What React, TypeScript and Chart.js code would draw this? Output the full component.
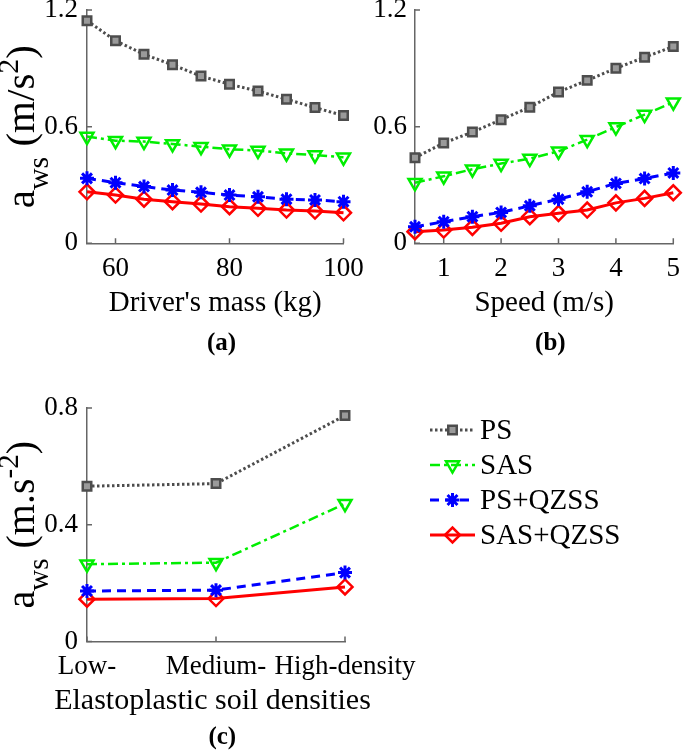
import React, { useEffect, useRef } from 'react';
import { Chart, registerables } from 'chart.js';
import { drawPoint } from 'chart.js/helpers';

Chart.register(...registerables);

const FONT = "'Liberation Serif', 'Times New Roman', serif";
Chart.defaults.font.family = FONT;
const AXIS = '#666666';

// ---------- data ----------
const seriesNames = ['PS', 'SAS', 'PS+QZSS', 'SAS+QZSS'];

const massX = [55, 60, 65, 70, 75, 80, 85, 90, 95, 100];
const massPS = [1.145, 1.042, 0.972, 0.918, 0.86, 0.818, 0.783, 0.741, 0.698, 0.657];
const massSAS = [0.549, 0.528, 0.523, 0.511, 0.497, 0.484, 0.477, 0.463, 0.454, 0.442];
const massPSQ = [0.334, 0.312, 0.292, 0.274, 0.262, 0.248, 0.239, 0.227, 0.223, 0.214];
const massSASQ = [0.265, 0.248, 0.227, 0.214, 0.202, 0.188, 0.18, 0.171, 0.166, 0.157];

const speedX = [0.5, 1, 1.5, 2, 2.5, 3, 3.5, 4, 4.5, 5];
const speedPS = [0.44, 0.516, 0.572, 0.636, 0.7, 0.778, 0.838, 0.9, 0.957, 1.012];
const speedSAS = [0.311, 0.345, 0.381, 0.41, 0.436, 0.473, 0.533, 0.598, 0.662, 0.726];
const speedPSQ = [0.085, 0.111, 0.137, 0.159, 0.193, 0.227, 0.265, 0.308, 0.333, 0.362];
const speedSASQ = [0.06, 0.068, 0.082, 0.103, 0.137, 0.154, 0.171, 0.208, 0.231, 0.26];

const soilLabels = ['Low-', 'Medium-', 'High-density'];
const soilPS = [0.532, 0.541, 0.774];
const soilSAS = [0.265, 0.27, 0.472];
const soilPSQ = [0.173, 0.176, 0.236];
const soilSASQ = [0.145, 0.147, 0.187];

const massXTicks = [60, 80, 100];
const speedXTicks = [1, 2, 3, 4, 5];
const yTicksAB = [0, 0.6, 1.2];
const yTicksC = [0, 0.4, 0.8];

// ---------- styles ----------
const seriesStyles: any[] = [
  {
    borderColor: '#4d4d4d', borderDash: [2.5, 2.5], borderWidth: 3,
    pointStyle: 'rect', pointRadius: 6, pointRotation: 0, pointBorderWidth: 2.5,
    pointBorderColor: '#4d4d4d', pointBackgroundColor: '#9a9a9a',
  },
  {
    borderColor: '#00ee00', borderDash: [10, 4, 3, 4], borderWidth: 2.5,
    pointStyle: 'triangle', pointRadius: 7.5, pointRotation: 180, pointBorderWidth: 2.5,
    pointBorderColor: '#00ee00', pointBackgroundColor: 'rgba(255,255,255,0)',
  },
  {
    borderColor: '#0000ff', borderDash: [9, 6], borderWidth: 3,
    pointStyle: 'star', pointRadius: 7, pointRotation: 0, pointBorderWidth: 3,
    pointBorderColor: '#0000ff', pointBackgroundColor: '#0000ff',
  },
  {
    borderColor: '#ff0000', borderDash: [], borderWidth: 3,
    pointStyle: 'rectRot', pointRadius: 7.5, pointRotation: 0, pointBorderWidth: 2.5,
    pointBorderColor: '#ff0000', pointBackgroundColor: 'rgba(255,255,255,0)',
  },
];

function makeDatasets(xs: any[] | null, ys: number[][]) {
  return ys.map((arr, i) => ({
    label: seriesNames[i],
    data: xs ? arr.map((v, j) => ({ x: xs[j], y: v })) : arr,
    fill: false,
    tension: 0,
    clip: false as any,
    ...seriesStyles[i],
  }));
}

// ---------- plugins ----------
const inwardTicks = {
  id: 'inwardTicks',
  beforeDatasetsDraw(chart: any) {
    const { ctx, chartArea } = chart;
    const xs = chart.scales.x;
    const ys = chart.scales.y;
    ctx.save();
    ctx.strokeStyle = AXIS;
    ctx.lineWidth = 1.5;
    ctx.beginPath();
    xs.ticks.forEach((_t: any, i: number) => {
      const p = xs.getPixelForTick(i);
      ctx.moveTo(p, chartArea.bottom);
      ctx.lineTo(p, chartArea.bottom - 5);
    });
    ys.ticks.forEach((_t: any, i: number) => {
      const p = ys.getPixelForTick(i);
      ctx.moveTo(chartArea.left, p);
      ctx.lineTo(chartArea.left + 5, p);
    });
    ctx.stroke();
    ctx.restore();
  },
};

type Part = { t: string; size: number; dy: number };
function makeYTitle(parts: Part[], baseX: number) {
  return {
    id: 'yTitleCustom',
    afterDraw(chart: any) {
      const { ctx, chartArea } = chart;
      ctx.save();
      let total = 0;
      const widths = parts.map((p) => {
        ctx.font = `${p.size}px ${FONT}`;
        const w = ctx.measureText(p.t).width;
        total += w;
        return w;
      });
      const cy = (chartArea.top + chartArea.bottom) / 2;
      ctx.translate(baseX, cy);
      ctx.rotate(-Math.PI / 2);
      ctx.fillStyle = '#000';
      ctx.textBaseline = 'alphabetic';
      ctx.textAlign = 'left';
      let x = -total / 2;
      parts.forEach((p, i) => {
        ctx.font = `${p.size}px ${FONT}`;
        ctx.fillText(p.t, x, p.dy);
        x += widths[i];
      });
      ctx.restore();
    },
  };
}

function makeXTitle(text: string, size: number, dx: number, y: number) {
  return {
    id: 'xTitleCustom',
    afterDraw(chart: any) {
      const { ctx, chartArea } = chart;
      ctx.save();
      ctx.font = `${size}px ${FONT}`;
      ctx.fillStyle = '#000';
      ctx.textAlign = 'center';
      ctx.textBaseline = 'middle';
      ctx.fillText(text, (chartArea.left + chartArea.right) / 2 + dx, y);
      ctx.restore();
    },
  };
}

const legendPlugin = {
  id: 'customLegend',
  afterDraw(chart: any) {
    const { ctx } = chart;
    const x0 = 430, x1 = 475, tx = 480, y0 = 60, step = 35;
    chart.data.datasets.forEach((ds: any, i: number) => {
      const y = y0 + i * step;
      ctx.save();
      ctx.strokeStyle = ds.borderColor;
      ctx.lineWidth = ds.borderWidth;
      ctx.setLineDash(ds.borderDash || []);
      ctx.beginPath();
      ctx.moveTo(x0, y);
      ctx.lineTo(x1, y);
      ctx.stroke();
      ctx.setLineDash([]);
      ctx.strokeStyle = ds.pointBorderColor;
      ctx.fillStyle = ds.pointBackgroundColor;
      ctx.lineWidth = ds.pointBorderWidth;
      drawPoint(ctx, { pointStyle: ds.pointStyle, rotation: ds.pointRotation, radius: ds.pointRadius, borderWidth: ds.pointBorderWidth } as any, (x0 + x1) / 2, y);
      ctx.fillStyle = '#000';
      ctx.font = `29px ${FONT}`;
      ctx.textBaseline = 'middle';
      ctx.textAlign = 'left';
      ctx.fillText(ds.label, tx, y + 1);
      ctx.restore();
    });
  },
};

// ---------- chart config builder ----------
function fmt(v: any) {
  return String(Number(Number(v).toFixed(2)));
}

interface PanelCfg {
  w: number; h: number;
  padTop: number; padRight: number;
  yWidth: number; xHeight: number;
  yTickPad: number;
  xTitle: string; xTitleShow: boolean; xTitlePadBottom: number;
  panelTitle: string; panelTitlePad: { top: number; bottom: number };
  xScale: any; yTicks: number[]; yMax: number;
  datasets: any[]; labels?: string[];
  plugins: any[];
}

function buildConfig(c: PanelCfg): any {
  return {
    type: 'line',
    data: { labels: c.labels, datasets: c.datasets },
    options: {
      responsive: false,
      animation: false,
      devicePixelRatio: 1,
      layout: { padding: { top: c.padTop, right: c.padRight, left: 0, bottom: 0 } },
      plugins: {
        legend: { display: false },
        tooltip: { enabled: false },
        title: {
          display: true,
          text: c.panelTitle,
          position: 'bottom',
          color: '#000',
          fullSize: false,
          font: { family: FONT, size: 25, weight: 'bold', lineHeight: 1.2 },
          padding: c.panelTitlePad,
        },
      },
      scales: {
        x: {
          ...c.xScale,
          grid: { display: false, drawTicks: false },
          border: { display: true, color: AXIS, width: 1.5 },
          ticks: {
            ...(c.xScale.ticks || {}),
            color: '#000', padding: 9, maxRotation: 0, autoSkip: false,
            font: { family: FONT, size: 27, lineHeight: 1.2 },
          },
          title: {
            display: c.xTitleShow, text: c.xTitle, color: '#000',
            font: { family: FONT, size: 29, lineHeight: 1.2 },
            padding: { top: 0, bottom: c.xTitlePadBottom },
          },
          afterFit: (s: any) => { s.height = c.xHeight; s.paddingLeft = 0; s.paddingRight = 0; },
        },
        y: {
          type: 'linear', min: 0, max: c.yMax,
          grid: { display: false, drawTicks: false },
          border: { display: true, color: AXIS, width: 1.5 },
          ticks: {
            color: '#000', padding: c.yTickPad,
            font: { family: FONT, size: 27, lineHeight: 1.2 },
            callback: (v: any) => fmt(v),
          },
          afterBuildTicks: (s: any) => { s.ticks = c.yTicks.map((v) => ({ value: v })); },
          afterFit: (s: any) => { s.width = c.yWidth; s.paddingTop = 0; s.paddingBottom = 0; },
        },
      },
    },
    plugins: [inwardTicks, ...c.plugins],
  };
}

function Panel({ cfg, left, top }: { cfg: PanelCfg; left: number; top: number }) {
  const ref = useRef<HTMLCanvasElement | null>(null);
  useEffect(() => {
    if (!ref.current) return;
    const chart = new Chart(ref.current, buildConfig(cfg));
    return () => chart.destroy();
  }, []);
  return (
    <canvas
      ref={ref}
      width={cfg.w}
      height={cfg.h}
      style={{ position: 'absolute', left, top, width: cfg.w, height: cfg.h }}
    />
  );
}

const yTitleAB = makeYTitle(
  [
    { t: 'a', size: 41, dy: 0 },
    { t: 'ws', size: 30, dy: 14 },
    { t: ' (m/s', size: 41, dy: 0 },
    { t: '2', size: 30, dy: -16 },
    { t: ')', size: 41, dy: 0 },
  ],
  34,
);

const yTitleC = makeYTitle(
  [
    { t: 'a', size: 40, dy: 0 },
    { t: 'ws', size: 29, dy: 14 },
    { t: ' (m.s', size: 40, dy: 0 },
    { t: '-2', size: 29, dy: -16 },
    { t: ')', size: 40, dy: 0 },
  ],
  34,
);

const cfgA: PanelCfg = {
  w: 380, h: 360, padTop: 10, padRight: 36.5,
  yWidth: 87, xHeight: 84.7, yTickPad: 9,
  xTitle: "Driver's mass (kg)", xTitleShow: true, xTitlePadBottom: 7.6,
  panelTitle: '\u2002(a)', panelTitlePad: { top: 1, bottom: 1 },
  xScale: {
    type: 'linear', min: 55, max: 100,
    ticks: { callback: (v: any) => fmt(v) },
    afterBuildTicks: (s: any) => { s.ticks = massXTicks.map((v) => ({ value: v })); },
  },
  yTicks: yTicksAB, yMax: 1.2,
  datasets: makeDatasets(massX, [massPS, massSAS, massPSQ, massSASQ]),
  plugins: [yTitleAB],
};

const cfgB: PanelCfg = {
  w: 355, h: 360, padTop: 10, padRight: 11.7,
  yWidth: 85, xHeight: 84.7, yTickPad: 8,
  xTitle: 'Speed (m/s)', xTitleShow: true, xTitlePadBottom: 7.6,
  panelTitle: '\u2002(b)', panelTitlePad: { top: 1, bottom: 1 },
  xScale: {
    type: 'linear', min: 0.5, max: 5,
    ticks: { callback: (v: any) => fmt(v) },
    afterBuildTicks: (s: any) => { s.ticks = speedXTicks.map((v) => ({ value: v })); },
  },
  yTicks: yTicksAB, yMax: 1.2,
  datasets: makeDatasets(speedX, [speedPS, speedSAS, speedPSQ, speedSASQ]),
  plugins: [],
};

const cfgC: PanelCfg = {
  w: 685, h: 384, padTop: 38, padRight: 340,
  yWidth: 87, xHeight: 81.5, yTickPad: 9,
  xTitle: 'Elastoplastic soil densities', xTitleShow: false, xTitlePadBottom: 4.6,
  panelTitle: '\u2002(c)', panelTitlePad: { top: 0, bottom: 1 },
  xScale: { type: 'category', offset: false },
  labels: soilLabels,
  yTicks: yTicksC, yMax: 0.8,
  datasets: makeDatasets(null, [soilPS, soilSAS, soilPSQ, soilSASQ]),
  plugins: [yTitleC, legendPlugin, makeXTitle('Elastoplastic soil densities', 30, -3.5, 331)],
};

export default function App() {
  return (
    <div
      style={{
        position: 'absolute', left: 0, top: 0, width: 685, height: 750,
        overflow: 'hidden', background: '#fff',
      }}
    >
      <Panel cfg={cfgA} left={0} top={0} />
      <Panel cfg={cfgB} left={330} top={0} />
      <Panel cfg={cfgC} left={0} top={370} />
    </div>
  );
}
